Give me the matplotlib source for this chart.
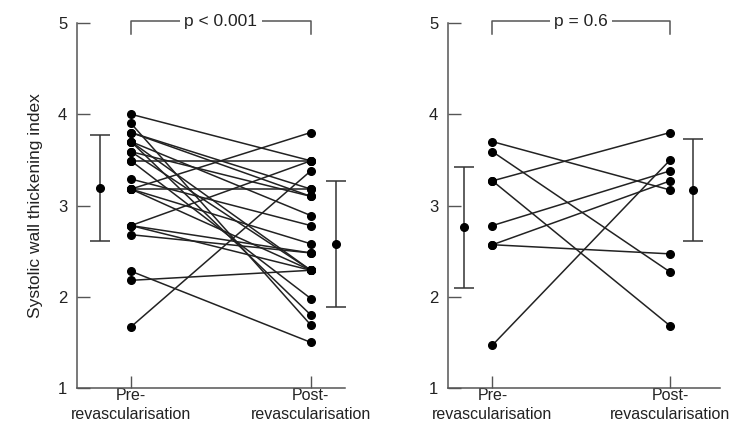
import matplotlib
matplotlib.use("Agg")
import matplotlib.pyplot as plt
from matplotlib.transforms import blended_transform_factory

plt.rcParams['font.family'] = ['Liberation Sans', 'DejaVu Sans']

# ---- data ----
x_labels_top = ["Pre-", "Post-"]
x_labels_bottom = ["revascularisation", "revascularisation"]

# Left panel: paired values
left_pre = [4.00, 3.90, 3.80, 3.80, 3.70, 3.70, 3.70, 3.59, 3.59, 3.49, 3.49,
            3.29, 3.18, 3.18, 3.18, 3.18, 2.78, 2.78, 2.78, 2.68, 2.28, 2.18, 1.67]
left_post = [3.49, 1.69, 3.18, 3.10, 2.89, 2.29, 1.80, 3.10, 2.29, 3.49, 1.98,
             2.78, 3.80, 3.18, 2.58, 2.29, 3.49, 2.48, 2.29, 2.48, 1.50, 2.29, 3.38]
left_mean = [3.19, 2.58]
left_sd = [0.58, 0.69]
left_p = "p < 0.001"

# Right panel: paired values
right_pre = [3.70, 3.59, 3.27, 3.27, 2.78, 2.57, 2.57, 1.47]
right_post = [3.17, 2.27, 3.80, 1.68, 3.38, 3.27, 2.47, 3.50]
right_mean = [2.76, 3.17]
right_sd = [0.66, 0.56]
right_p = "p = 0.6"

ylabel = "Systolic wall thickening index"
yticks = [1, 2, 3, 4, 5]

fig = plt.figure(figsize=(7.43, 4.34), dpi=100)
axL = fig.add_axes([77/743, 1 - 388/434, (345-77)/743, (388-23)/434])
axR = fig.add_axes([448/743, 1 - 388/434, (720-448)/743, (388-23)/434])

spine_col = '#555555'
line_col = '#222222'
text_col = '#222222'

def draw(ax, pre, post, mean, sd, ptxt, xlim, err_x):
    for a, b in zip(pre, post):
        ax.plot([1, 2], [a, b], color=line_col, lw=1.1, zorder=2)
    ax.plot([1] * len(pre), pre, 'o', color='black', ms=5.5, zorder=3)
    ax.plot([2] * len(post), post, 'o', color='black', ms=5.5, zorder=3)
    ax.errorbar(err_x, mean, yerr=sd, fmt='o', color='black', ms=5.5,
                ecolor='#333333', elinewidth=1.1, capsize=7, capthick=1.1, zorder=3)
    ax.set_xlim(*xlim)
    ax.set_ylim(1, 5)
    ax.set_yticks(yticks)
    ax.set_xticks([1, 2])
    ax.set_xticklabels(x_labels_top, fontsize=11.5, color=text_col)
    tr = blended_transform_factory(ax.transData, ax.transAxes)
    for xv, lab in zip([1, 2], x_labels_bottom):
        ax.text(xv, -0.073, lab, transform=tr, ha='center', va='center',
                fontsize=11.5, color=text_col)
    ax.tick_params(axis='both', direction='in', length=9, width=1, color=spine_col,
                   labelsize=11.5, labelcolor=text_col)
    ax.tick_params(axis='y', pad=7, labelsize=12)
    ax.tick_params(axis='x', pad=0)
    for s in ['top', 'right']:
        ax.spines[s].set_visible(False)
    for s in ['left', 'bottom']:
        ax.spines[s].set_color(spine_col)
        ax.spines[s].set_linewidth(1.1)
    # significance bracket
    ax.plot([1, 1, 2, 2], [4.88, 5.02, 5.02, 4.88], color=spine_col, lw=1.1, clip_on=False)
    ax.text(1.5, 5.02, ptxt, ha='center', va='center', fontsize=12.5, color=text_col,
            bbox=dict(facecolor='white', edgecolor='none', pad=3), clip_on=False, zorder=4)

draw(axL, left_pre, left_post, left_mean, left_sd, left_p, (0.7, 2.19), [0.83, 2.14])
draw(axR, right_pre, right_post, right_mean, right_sd, right_p, (0.75, 2.28), [0.84, 2.13])

axL.set_ylabel(ylabel, fontsize=12.5, color=text_col, labelpad=11)

fig.savefig("out.png", dpi=100)
